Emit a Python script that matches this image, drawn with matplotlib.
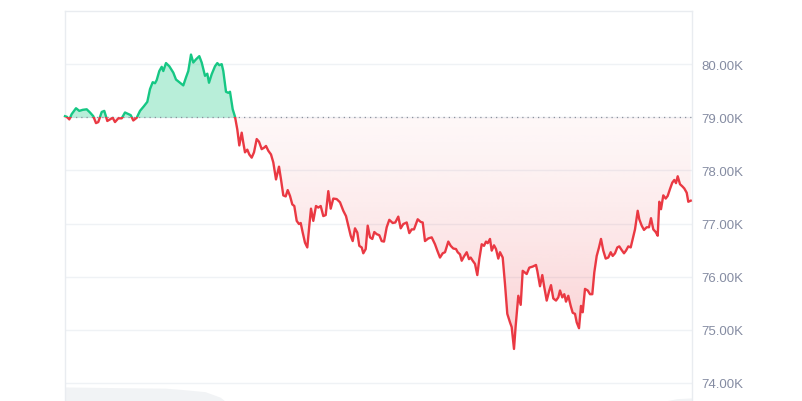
import numpy as np
import matplotlib
matplotlib.use("Agg")
import matplotlib.pyplot as plt
from matplotlib.patches import Rectangle

# price trace (K USD), time in plot steps
t = [0, 1.7, 4.3, 6.7, 11, 14.3, 17.7, 21.7, 25, 28.3,
     31, 33.3, 36.7, 39.3, 42.3, 45, 47.7, 50, 53.3, 56.7,
     60, 63.3, 65.7, 68.3, 71.7, 75, 79, 82.3, 85, 87.7,
     90, 91.7, 94.3, 96.7, 98.3, 101, 104.3, 108.3, 111, 114.3,
     118.3, 121, 123.3, 126, 128.3, 131, 134.3, 136.7, 140, 142.3,
     144, 146.7, 150, 152.3, 154.3, 156.7, 158.3, 161, 163.3, 165,
     167.7, 170,
     172.3, 174.3, 176.7, 178.3, 180, 182.3, 184.3, 186.7, 189, 191.7,
     194, 196.7, 199.3, 201, 203.3, 206, 208.3, 211, 214, 216,
     218.3, 220.7, 222.7, 225, 227.3, 229.3, 231.7, 234, 235.7, 237.7,
     240, 242.3, 244.3, 246, 248.3, 251, 253.3, 255.7, 258.3, 260.7,
     263.3, 265.7, 268.3, 271.7, 275, 278.3, 281, 283.3, 285.7, 287.7,
     290, 292.3, 294.3, 296.7, 298.3, 300.7, 302.7, 305, 307.3, 309.3,
     311.7, 314.3,
     316.7, 319, 321.7, 324.3, 327.7, 330.3, 333.3, 335.7, 338.3, 341.7,
     344.3, 346.7, 349, 352.7, 355.7, 357.7, 360, 363.3, 366.7, 370,
     372.3, 375, 377.7, 380, 383.3, 385.7, 388.3, 391, 392.7, 395,
     396.7, 399, 401.7, 404, 405.7, 407.7, 410, 412.3, 414.3, 416.7,
     419, 421, 422.7, 425, 426.7, 429, 431, 433.3, 435, 437.7,
     440, 442.3, 445, 446.7, 449, 450.7, 453.3, 455.7,
     457.7, 461.7, 464.3, 467.7, 471, 472.3, 475, 477.3, 479.3, 481.7,
     484.3, 486, 488.3, 491, 493.3, 495, 497.3, 499.3, 501, 503.3,
     505.7, 507.7, 510, 511.7, 514, 516, 517.7, 520, 522.7, 525,
     527.3, 529.3, 531.7, 534, 536, 538.3, 540.7, 543.3, 545.7, 547.7,
     550, 552.3, 554.3, 556.7, 559, 561, 563.3, 565.7, 567.7, 570,
     572.7, 574.3, 576.7, 579, 581.7, 584, 586, 588.3, 590.7, 592.7,
     594.3, 596, 598.3, 600.7, 602.7, 605, 607.3, 609.3, 611, 612.7,
     615, 617.3, 619.3, 621.7, 623.3, 625.7]

price = [79.02, 79.01, 78.96, 79.06, 79.17, 79.12, 79.14, 79.15, 79.09, 79.02,
         78.89, 78.91, 79.10, 79.12, 78.93, 78.96, 78.99, 78.91, 78.98, 78.98,
         79.09, 79.06, 79.04, 78.94, 78.99, 79.12, 79.21, 79.29, 79.53, 79.66,
         79.64, 79.70, 79.87, 79.95, 79.87, 80.02, 79.96, 79.84, 79.71, 79.66,
         79.60, 79.75, 79.87, 80.18, 80.03, 80.09, 80.15, 80.03, 79.78, 79.82,
         79.65, 79.81, 79.96, 80.02, 79.98, 80.00, 79.87, 79.48, 79.46, 79.48,
         79.15, 79.01,
         78.77, 78.47, 78.71, 78.52, 78.34, 78.39, 78.30, 78.24, 78.34, 78.59,
         78.54, 78.40, 78.43, 78.46, 78.37, 78.30, 78.15, 77.83, 78.07, 77.83,
         77.53, 77.51, 77.63, 77.52, 77.36, 77.33, 77.05, 76.99, 77.01, 76.83,
         76.64, 76.55, 76.96, 77.28, 77.05, 77.33, 77.30, 77.33, 77.14, 77.16,
         77.61, 77.28, 77.47, 77.46, 77.40, 77.24, 77.14, 76.96, 76.77, 76.67,
         76.91, 76.83, 76.58, 76.55, 76.44, 76.52, 76.96, 76.74, 76.71, 76.84,
         76.80, 76.78,
         76.67, 76.66, 76.93, 77.07, 77.01, 77.02, 77.13, 76.91, 76.99, 77.02,
         76.82, 76.89, 76.89, 77.08, 77.03, 77.02, 76.67, 76.72, 76.74, 76.61,
         76.49, 76.36, 76.44, 76.46, 76.66, 76.58, 76.53, 76.52, 76.46, 76.42,
         76.30, 76.38, 76.46, 76.33, 76.36, 76.30, 76.24, 76.03, 76.33, 76.61,
         76.58, 76.66, 76.63, 76.71, 76.49, 76.59, 76.52, 76.34, 76.46, 76.36,
         75.86, 75.30, 75.14, 75.05, 74.64, 75.08, 75.64, 75.47,
         76.11, 76.05, 76.17, 76.19, 76.22, 76.11, 75.82, 76.03, 75.80, 75.55,
         75.74, 75.84, 75.59, 75.55, 75.61, 75.74, 75.61, 75.67, 75.53, 75.64,
         75.45, 75.32, 75.30, 75.14, 75.03, 75.45, 75.33, 75.77, 75.74, 75.67,
         75.67, 76.08, 76.39, 76.55, 76.71, 76.49, 76.34, 76.36, 76.46, 76.39,
         76.44, 76.55, 76.57, 76.50, 76.44, 76.49, 76.57, 76.55, 76.71, 76.89,
         77.24, 77.08, 76.96, 76.88, 76.93, 76.93, 77.10, 76.89, 76.84, 76.77,
         77.41, 77.27, 77.53, 77.47, 77.52, 77.65, 77.77, 77.82, 77.76, 77.89,
         77.74, 77.70, 77.66, 77.58, 77.41, 77.43]

baseline = 79.0
yticks = [74, 75, 76, 77, 78, 79, 80]

# faint volume area at the bottom
vol_t = [0, 60, 100, 115, 140, 155, 160, 600, 612, 627]
vol = [3.6, 3.4, 3.3, 3.0, 2.4, 1.0, 0, 0, 0.6, 0.8]

green = '#16c784'
red = '#ea3943'
grid_c = '#eff2f5'

t = np.array(t)
price = np.array(price)

fig = plt.figure(figsize=(8.02, 4.02), dpi=100)
ax = fig.add_axes([65 / 802, 0, 627 / 802, 390 / 402])
ax.set_xlim(0, 627)
ax.set_ylim(73.66, 81.0)

# volume on a hidden twin axis
axv = ax.twinx()
axv.set_ylim(0, 100)
axv.fill_between(vol_t, vol, 0, color='#f1f3f5', lw=0)
axv.axis('off')
ax.set_zorder(axv.get_zorder() + 1)
ax.patch.set_visible(False)

for v in yticks:
    ax.axhline(v, color=grid_c, lw=1, zorder=0)

# green area above baseline
ax.fill_between(t, np.maximum(price, baseline), baseline, color=green,
                alpha=0.3, lw=0, zorder=1)

# red gradient area below baseline
poly = ax.fill_between(t, np.minimum(price, baseline), baseline,
                       facecolor='none', lw=0)
g = np.linspace(0, 1, 256).reshape(-1, 1)
rgba = np.zeros((256, 1, 4))
rgba[..., :3] = matplotlib.colors.to_rgb(red)
rgba[..., 3] = 0.04 + 0.2 * g ** 1.3
im = ax.imshow(rgba, extent=[0, 627, price.min(), baseline], origin='upper',
               aspect='auto', zorder=1, interpolation='bilinear')
im.set_clip_path(poly.get_paths()[0], transform=ax.transData)

ax.axhline(baseline, color='#8a909c', lw=0.9, linestyle=(0, (1, 3.2)), zorder=2)

above = Rectangle((-10, baseline), 650, 10, transform=ax.transData)
below = Rectangle((-10, baseline - 10), 650, 10, transform=ax.transData)
ln_g, = ax.plot(t, price, color=green, lw=1.7, zorder=3, solid_joinstyle='round')
ln_g.set_clip_path(above)
ln_r, = ax.plot(t, price, color=red, lw=1.7, zorder=3, solid_joinstyle='round')
ln_r.set_clip_path(below)

ax.yaxis.tick_right()
ax.set_yticks(yticks)
ax.set_yticklabels([f'{v:.2f}K' for v in yticks])
ax.tick_params(axis='y', length=0, pad=7, labelsize=9.5, labelcolor='#858ca2')
for lab in ax.get_yticklabels():
    lab.set_fontfamily('Liberation Sans')
ax.set_xticks([])

for s in ['left', 'top', 'right']:
    ax.spines[s].set_color('#e9ecf0')
    ax.spines[s].set_linewidth(1)
ax.spines['bottom'].set_visible(False)

fig.savefig('out.png', dpi=100)
